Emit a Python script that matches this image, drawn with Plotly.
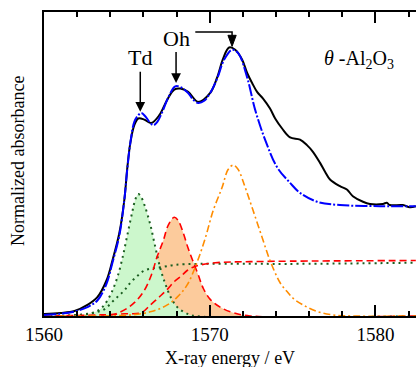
import plotly.graph_objects as go

# ---- data (energy in eV, normalized absorbance) ----
exp_x = [1560.0, 1561.0, 1561.84, 1562.62, 1563.22, 1563.77, 1564.13, 1564.55, 1564.85, 1565.03,
         1565.21, 1565.45, 1565.69, 1566.05, 1566.48, 1566.96, 1567.44, 1567.86, 1568.22, 1568.70,
         1569.31, 1570.03, 1570.45, 1570.81, 1571.17, 1571.54, 1571.96, 1572.26, 1572.56, 1572.86,
         1573.22, 1573.64, 1573.95, 1574.37, 1574.85, 1575.45, 1575.87, 1576.23, 1576.66, 1576.96,
         1577.26, 1577.86, 1578.28, 1578.64, 1579.25, 1579.67, 1580.45, 1580.69, 1580.87, 1581.66,
         1582.08, 1582.44]
exp_y = [0.018, 0.027, 0.045, 0.10, 0.17, 0.32, 0.50, 0.75, 1.05, 1.34,
         1.56, 1.72, 1.78, 1.77, 1.74, 1.81, 1.95, 2.04, 2.05, 2.02,
         1.93, 2.01, 2.15, 2.32, 2.42, 2.40, 2.31, 2.19, 2.10, 2.02,
         1.96, 1.87, 1.78, 1.69, 1.61, 1.59, 1.54, 1.48, 1.38, 1.30,
         1.23, 1.17, 1.14, 1.08, 1.03, 1.01, 1.01, 1.02, 1.00, 1.00,
         0.98, 0.99]

fit_x = [1560.0, 1561.0, 1561.84, 1562.62, 1563.22, 1563.77, 1564.13, 1564.55, 1564.85, 1565.03,
         1565.21, 1565.45, 1565.69, 1565.87, 1566.11, 1566.36, 1566.60, 1566.84, 1567.14, 1567.50,
         1567.92, 1568.28, 1568.70, 1569.0, 1569.31, 1569.67, 1570.03, 1570.45, 1570.87, 1571.35,
         1571.72, 1572.26, 1572.74, 1573.34, 1574.07, 1574.85, 1575.45, 1576.48, 1577.86, 1580.27,
         1582.44]
fit_y = [0.01, 0.02, 0.04, 0.08, 0.14, 0.29, 0.48, 0.73, 1.05, 1.33,
         1.56, 1.75, 1.81, 1.83, 1.80, 1.75, 1.72, 1.75, 1.84, 1.97,
         2.07, 2.06, 2.01, 1.95, 1.92, 1.94, 2.01, 2.14, 2.31, 2.40,
         2.37, 2.15, 1.86, 1.59, 1.34, 1.20, 1.11, 1.03, 1.00, 0.99,
         0.99]

td_x = [1560.0, 1560.99, 1562.62, 1563.22, 1563.64, 1564.07, 1564.43, 1564.73, 1565.03, 1565.33,
        1565.51, 1565.69, 1565.87, 1566.11, 1566.42, 1566.72, 1567.02, 1567.32, 1567.68, 1568.04,
        1568.52, 1569.13, 1582.44]
td_y = [0.0, 0.0, 0.02, 0.045, 0.10, 0.21, 0.35, 0.52, 0.73, 0.94,
        1.05, 1.10, 1.07, 0.98, 0.82, 0.62, 0.43, 0.29, 0.16, 0.08,
        0.03, 0.0, 0.0]

oh1_x = [1560.0, 1563.64, 1564.67, 1565.45, 1566.05, 1566.48, 1566.84, 1567.2, 1567.5, 1567.86,
         1568.10, 1568.40, 1568.70, 1569.0, 1569.31, 1569.61, 1570.03, 1570.63, 1571.41, 1572.44,
         1582.44]
oh1_y = [0.0, 0.0, 0.04, 0.12, 0.23, 0.37, 0.54, 0.68, 0.82, 0.89,
         0.86, 0.75, 0.61, 0.49, 0.37, 0.25, 0.15, 0.08, 0.03, 0.0,
         0.0]

oh2_x = [1560.0, 1563.4, 1565.27, 1566.48, 1567.44, 1568.04, 1568.64, 1569.25, 1569.73, 1570.21,
         1570.75, 1571.11, 1571.42, 1571.72, 1572.14, 1572.62, 1573.16, 1573.64, 1574.25, 1574.67,
         1575.03, 1575.63, 1576.48, 1577.44, 1578.64, 1582.44]
oh2_y = [0.0, 0.0, 0.01, 0.04, 0.10, 0.17, 0.28, 0.49, 0.70, 0.95,
         1.16, 1.32, 1.36, 1.32, 1.16, 0.95, 0.71, 0.50, 0.30, 0.22,
         0.16, 0.10, 0.04, 0.01, 0.0, 0.0]

step_td_x = [1560.0, 1562.2, 1563.04, 1563.64, 1564.07, 1564.49, 1564.85, 1565.21, 1565.63, 1566.05,
             1566.54, 1567.08, 1567.86, 1569.43, 1572.44, 1575.45, 1582.44]
step_td_y = [0.0, 0.01, 0.03, 0.06, 0.12, 0.18, 0.23, 0.30, 0.36, 0.41,
             0.43, 0.44, 0.46, 0.47, 0.47, 0.47, 0.48]

step_oh_x = [1560.0, 1563.4, 1564.9, 1565.87, 1566.42, 1567.02, 1567.44, 1567.86, 1568.28, 1568.64,
             1569.0, 1569.43, 1570.33, 1572.44, 1582.44]
step_oh_y = [0.0, 0.01, 0.02, 0.03, 0.10, 0.18, 0.24, 0.31, 0.36, 0.41,
             0.44, 0.46, 0.48, 0.49, 0.50]

SERIF = "Liberation Serif, Times New Roman, serif"
X_RANGE = [1560, 1582.45]

fig = go.Figure()

# fills (peach under Oh1, green above it under Td)
fig.add_trace(go.Scatter(x=oh1_x, y=oh1_y, mode="lines", line=dict(width=0, shape="spline"),
                         fill="tozeroy", fillcolor="#fccb9c", hoverinfo="skip", showlegend=False))
fig.add_trace(go.Scatter(x=td_x, y=td_y, mode="lines", line=dict(width=0, shape="spline"),
                         fill="tozeroy", fillcolor="#ccf7cc", hoverinfo="skip", showlegend=False))

# component lines
fig.add_trace(go.Scatter(x=step_td_x, y=step_td_y, mode="lines",
                         line=dict(color="#1b5e20", width=2, dash="2px,4px", shape="spline"), showlegend=False))
fig.add_trace(go.Scatter(x=td_x, y=td_y, mode="lines",
                         line=dict(color="#1b5e20", width=2, dash="2px,4px", shape="spline"), showlegend=False))
fig.add_trace(go.Scatter(x=step_oh_x, y=step_oh_y, mode="lines",
                         line=dict(color="#ff0000", width=1.6, dash="7px,4px", shape="spline"), showlegend=False))
fig.add_trace(go.Scatter(x=oh1_x, y=oh1_y, mode="lines",
                         line=dict(color="#ff0000", width=1.6, dash="7px,4px", shape="spline"), showlegend=False))
fig.add_trace(go.Scatter(x=oh2_x, y=oh2_y, mode="lines",
                         line=dict(color="#ff8c00", width=1.6, dash="7px,3px,2px,3px", shape="spline"), showlegend=False))

# experiment and fit
fig.add_trace(go.Scatter(x=exp_x, y=exp_y, mode="lines",
                         line=dict(color="black", width=2, shape="spline"), showlegend=False))
fig.add_trace(go.Scatter(x=fit_x, y=fit_y, mode="lines",
                         line=dict(color="#0000ff", width=2, dash="12px,2px,2px,2px", shape="spline"),
                         showlegend=False))

# labels with arrows (text at the arrow tail)
fig.add_annotation(x=1565.81, y=1.84, xref="x", yref="y", text="Td", showarrow=True,
                   ax=0, ay=-54, arrowhead=2, arrowsize=1.3, arrowwidth=1.5, arrowcolor="black",
                   font=dict(family=SERIF, size=22, color="black"))
fig.add_annotation(x=1567.97, y=2.10, xref="x", yref="y", text="Oh", showarrow=True,
                   ax=0, ay=-45, arrowhead=2, arrowsize=1.3, arrowwidth=1.5, arrowcolor="black",
                   font=dict(family=SERIF, size=22, color="black"))
# bent connector from "Oh" to the main peak, with a filled head
fig.add_shape(type="path", xref="x", yref="y",
              path="M 1569.13,2.56 L 1571.35,2.56 L 1571.35,2.52",
              line=dict(color="black", width=1.5))
fig.add_shape(type="path", xref="x", yref="y",
              path="M 1571.10,2.53 L 1571.60,2.53 L 1571.35,2.43 Z",
              fillcolor="black", line=dict(color="black", width=1))
fig.add_annotation(x=1579.0, y=2.31, xref="x", yref="y",
                   text="<i>θ</i> -Al<sub>2</sub>O<sub>3</sub>", showarrow=False,
                   font=dict(family=SERIF, size=20, color="black"))

# axis titles
fig.add_annotation(x=0.5, y=-0.138, xref="paper", yref="paper", text="X-ray energy / eV",
                   showarrow=False, font=dict(family=SERIF, size=18, color="black"), yanchor="middle")
fig.add_annotation(x=-0.07, y=0.51, xref="paper", yref="paper", text="Normalized absorbance",
                   textangle=-90, showarrow=False, font=dict(family=SERIF, size=18, color="black"),
                   xanchor="center", yanchor="middle")

fig.update_layout(
    xaxis=dict(range=X_RANGE, tickmode="linear", tick0=1560, dtick=10,
               ticks="inside", ticklen=11, tickwidth=1.5, tickcolor="black",
               minor=dict(dtick=2, ticks="inside", ticklen=5, tickwidth=1.5, tickcolor="black"),
               showline=True, linewidth=1.5, linecolor="black", mirror="ticks", showgrid=False,
               tickfont=dict(family=SERIF, size=19, color="black")),
    yaxis=dict(range=[0, 2.74], showticklabels=False, showline=True, linewidth=1.5,
               linecolor="black", showgrid=False),
    width=416, height=367, margin=dict(l=44, r=0, t=12, b=51),
    plot_bgcolor="white", paper_bgcolor="white", showlegend=False,
)

fig.write_html("out.html", config={"displayModeBar": False},
               post_script="document.body.style.margin='0';document.body.style.padding='0';")
